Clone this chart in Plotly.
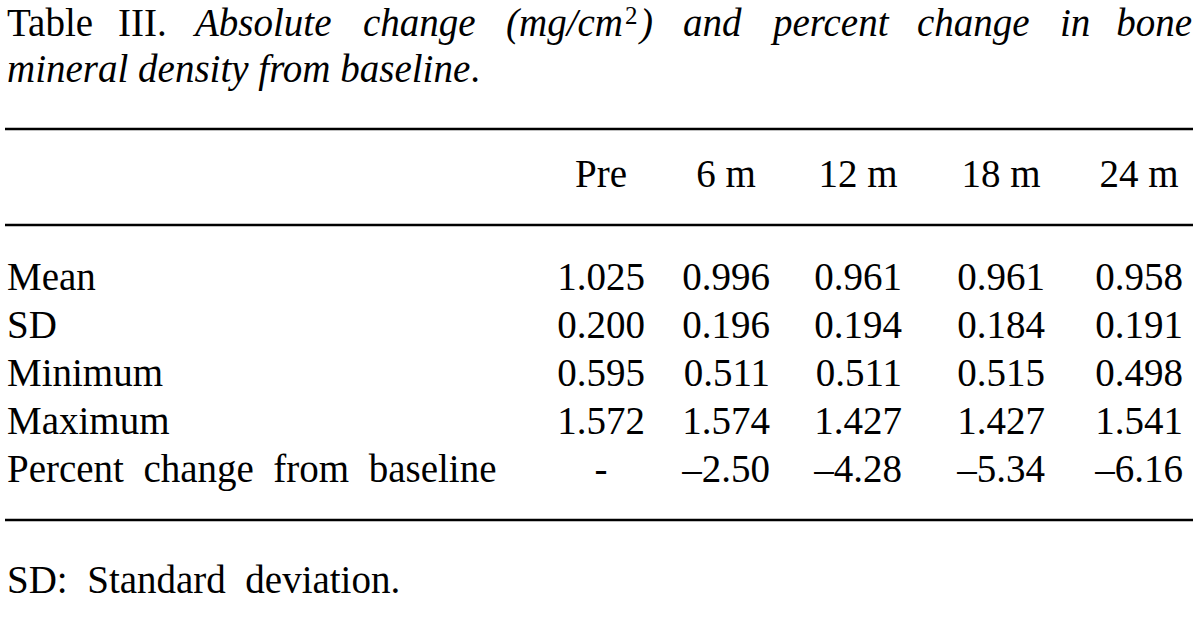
import plotly.graph_objects as go

# ---------------- data ----------------
columns = ["Pre", "6 m", "12 m", "18 m", "24 m"]
row_labels = ["Mean", "SD", "Minimum", "Maximum", "Percent\u00a0 change\u00a0 from\u00a0 baseline"]
mean_vals = [1.025, 0.996, 0.961, 0.961, 0.958]
sd_vals = [0.200, 0.196, 0.194, 0.184, 0.191]
min_vals = [0.595, 0.511, 0.511, 0.515, 0.498]
max_vals = [1.572, 1.574, 1.427, 1.427, 1.541]
pct_vals = [None, -2.50, -4.28, -5.34, -6.16]

title_words = ["Table", "III.", "<i>Absolute</i>", "<i>change</i>", "<i>(mg/cm</i>",
               "<i>and</i>", "<i>percent</i>", "<i>change</i>", "<i>in</i>", "<i>bone</i>"]
title_sup = "2"
title_paren = "<i>)</i>"
title_line2 = "<i>mineral density from baseline</i>."
footnote = "SD:\u00a0 Standard\u00a0 deviation."

# ---------------- layout constants ----------------
FONT = "Liberation Serif, Times New Roman, serif"
FS = 39
SHIFT = 10  # baseline offset for text traces
title_x = [7, 118, 195, 363, 506, 683, 773, 917, 1060, 1100]
sup_x, paren_x = 625, 640
col_right = [645, 770, 902, 1045, 1183]
col_center = [r - 44 for r in col_right]
row_base = [290, 338, 386, 434, 482]
header_base = 187
rules_y = [129, 225, 520]

def fmt3(v):
    return f"{v:.3f}"

def fmtp(v):
    return "-" if v is None else ("\u2013" if v < 0 else "") + f"{abs(v):.2f}"

fig = go.Figure()

def text_trace(xs, ys, texts, pos, size=FS):
    fig.add_trace(go.Scatter(x=xs, y=[y - SHIFT * size / FS for y in ys], text=texts, mode="text",
                             textposition=pos, textfont=dict(family=FONT, size=size, color="black"),
                             hoverinfo="skip", showlegend=False, cliponaxis=False))

# title
text_trace(title_x[:-1], [36] * (len(title_x) - 1), title_words[:-1], "middle right")
text_trace([1192], [36], title_words[-1:], "middle left")
text_trace([sup_x], [24], [title_sup], "middle right", size=25)
text_trace([paren_x], [36], [title_paren], "middle right")
text_trace([7], [82], [title_line2], "middle right")

# header
text_trace(col_center, [header_base] * len(columns), columns, "middle center")

# row labels
text_trace([7] * len(row_labels), row_base, row_labels, "middle right")

# values
for i, series in enumerate([mean_vals, sd_vals, min_vals, max_vals]):
    text_trace(col_right, [row_base[i]] * len(series), [fmt3(v) for v in series], "middle left")
pct_text = [fmtp(v) for v in pct_vals]
text_trace([col_center[0]], [row_base[4]], [pct_text[0]], "middle center")
text_trace(col_right[1:], [row_base[4]] * 4, pct_text[1:], "middle left")

# footnote
text_trace([7], [593], [footnote], "middle right")

for y in rules_y:
    fig.add_shape(type="line", x0=5, x1=1193, y0=y, y1=y, xref="x", yref="y",
                  line=dict(color="black", width=2.5))

fig.update_layout(
    width=1200, height=622, margin=dict(l=0, r=0, t=0, b=0),
    paper_bgcolor="white", plot_bgcolor="white",
    xaxis=dict(range=[0, 1200], visible=False, fixedrange=True),
    yaxis=dict(range=[622, 0], visible=False, fixedrange=True),
    showlegend=False,
)
fig.write_html("out.html", config={"displayModeBar": False},
               post_script="document.body.style.margin='0';document.body.style.overflow='hidden';")
